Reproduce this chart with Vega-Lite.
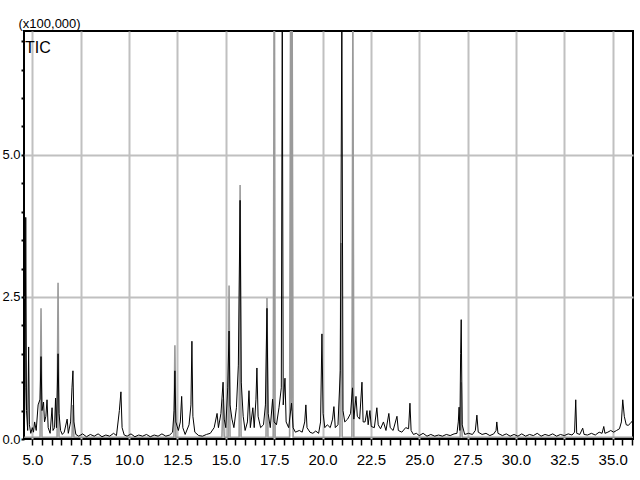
{
  "$schema": "https://vega.github.io/schema/vega-lite/v6.json",
  "width": 609,
  "height": 408,
  "autosize": {"type": "none"},
  "padding": {"left": 24, "top": 31, "right": 7, "bottom": 41},
  "background": "white",
  "config": {"view": {"stroke": "black", "strokeWidth": 2}},
  "datasets": {
    "black": [
      {"t":4.58,"v":0.08},{"t":4.63,"v":0.9},{"t":4.66,"v":3.9},{"t":4.70,"v":0.5},{"t":4.76,"v":0.15},{"t":4.81,"v":1.62},{"t":4.85,"v":0.25},{"t":4.92,"v":0.1},{"t":5.0,"v":0.2},{"t":5.06,"v":0.12},{"t":5.12,"v":0.3},{"t":5.2,"v":0.15},{"t":5.3,"v":0.6},{"t":5.4,"v":0.7},{"t":5.45,"v":1.45},{"t":5.5,"v":0.5},{"t":5.58,"v":0.65},{"t":5.63,"v":0.3},{"t":5.7,"v":0.4},{"t":5.76,"v":0.69},{"t":5.82,"v":0.2},{"t":5.92,"v":0.1},{"t":6.02,"v":0.55},{"t":6.07,"v":0.15},{"t":6.15,"v":0.2},{"t":6.2,"v":0.72},{"t":6.25,"v":0.2},{"t":6.33,"v":1.5},{"t":6.38,"v":0.45},{"t":6.46,"v":0.15},{"t":6.55,"v":0.08},{"t":6.65,"v":0.12},{"t":6.8,"v":0.35},{"t":6.86,"v":0.1},{"t":6.98,"v":0.3},{"t":7.05,"v":0.9},{"t":7.1,"v":1.2},{"t":7.15,"v":0.3},{"t":7.25,"v":0.08},{"t":7.4,"v":0.05},{"t":7.6,"v":0.09},{"t":7.8,"v":0.04},{"t":8.0,"v":0.08},{"t":8.2,"v":0.05},{"t":8.4,"v":0.09},{"t":8.6,"v":0.04},{"t":8.8,"v":0.07},{"t":9.0,"v":0.05},{"t":9.2,"v":0.1},{"t":9.35,"v":0.06},{"t":9.5,"v":0.5},{"t":9.58,"v":0.83},{"t":9.64,"v":0.2},{"t":9.75,"v":0.07},{"t":9.9,"v":0.05},{"t":10.1,"v":0.09},{"t":10.3,"v":0.04},{"t":10.5,"v":0.07},{"t":10.7,"v":0.05},{"t":10.9,"v":0.08},{"t":11.1,"v":0.04},{"t":11.3,"v":0.07},{"t":11.5,"v":0.05},{"t":11.7,"v":0.09},{"t":11.9,"v":0.05},{"t":12.1,"v":0.07},{"t":12.25,"v":0.12},{"t":12.33,"v":0.5},{"t":12.37,"v":1.2},{"t":12.42,"v":0.3},{"t":12.55,"v":0.15},{"t":12.65,"v":0.3},{"t":12.72,"v":0.75},{"t":12.78,"v":0.2},{"t":12.9,"v":0.08},{"t":13.1,"v":0.25},{"t":13.2,"v":0.6},{"t":13.25,"v":1.72},{"t":13.3,"v":0.4},{"t":13.4,"v":0.12},{"t":13.6,"v":0.06},{"t":13.8,"v":0.05},{"t":14.0,"v":0.08},{"t":14.2,"v":0.1},{"t":14.4,"v":0.2},{"t":14.55,"v":0.45},{"t":14.62,"v":0.2},{"t":14.75,"v":0.45},{"t":14.86,"v":1.0},{"t":14.92,"v":0.35},{"t":15.0,"v":0.2},{"t":15.1,"v":0.9},{"t":15.17,"v":1.9},{"t":15.22,"v":0.6},{"t":15.32,"v":0.35},{"t":15.42,"v":0.2},{"t":15.55,"v":0.55},{"t":15.65,"v":1.3},{"t":15.74,"v":4.2},{"t":15.8,"v":1.0},{"t":15.9,"v":0.4},{"t":16.0,"v":0.15},{"t":16.12,"v":0.3},{"t":16.2,"v":0.85},{"t":16.27,"v":0.2},{"t":16.4,"v":0.55},{"t":16.47,"v":0.2},{"t":16.56,"v":0.7},{"t":16.61,"v":1.25},{"t":16.67,"v":0.4},{"t":16.8,"v":0.2},{"t":16.95,"v":0.25},{"t":17.05,"v":0.6},{"t":17.13,"v":2.3},{"t":17.19,"v":0.45},{"t":17.3,"v":0.2},{"t":17.42,"v":0.7},{"t":17.5,"v":0.3},{"t":17.62,"v":0.25},{"t":17.75,"v":0.55},{"t":17.87,"v":0.9},{"t":17.92,"v":7.5},{"t":17.97,"v":0.6},{"t":18.06,"v":1.07},{"t":18.12,"v":0.3},{"t":18.25,"v":0.2},{"t":18.4,"v":0.63},{"t":18.48,"v":0.2},{"t":18.6,"v":0.12},{"t":18.8,"v":0.15},{"t":18.95,"v":0.12},{"t":19.08,"v":0.3},{"t":19.14,"v":0.6},{"t":19.2,"v":0.2},{"t":19.35,"v":0.12},{"t":19.5,"v":0.1},{"t":19.65,"v":0.14},{"t":19.8,"v":0.1},{"t":19.9,"v":0.3},{"t":19.97,"v":1.85},{"t":20.03,"v":0.45},{"t":20.12,"v":0.2},{"t":20.25,"v":0.25},{"t":20.4,"v":0.2},{"t":20.52,"v":0.35},{"t":20.59,"v":0.57},{"t":20.66,"v":0.2},{"t":20.8,"v":0.25},{"t":20.92,"v":1.2},{"t":21.0,"v":7.5},{"t":21.06,"v":0.5},{"t":21.15,"v":0.3},{"t":21.3,"v":0.35},{"t":21.45,"v":0.45},{"t":21.55,"v":0.9},{"t":21.62,"v":0.35},{"t":21.73,"v":0.75},{"t":21.8,"v":0.4},{"t":21.92,"v":0.35},{"t":22.04,"v":1.0},{"t":22.1,"v":0.3},{"t":22.2,"v":0.3},{"t":22.3,"v":0.5},{"t":22.36,"v":0.25},{"t":22.45,"v":0.5},{"t":22.52,"v":0.22},{"t":22.68,"v":0.2},{"t":22.81,"v":0.55},{"t":22.88,"v":0.25},{"t":23.0,"v":0.18},{"t":23.15,"v":0.3},{"t":23.28,"v":0.15},{"t":23.43,"v":0.45},{"t":23.5,"v":0.2},{"t":23.65,"v":0.15},{"t":23.85,"v":0.4},{"t":23.92,"v":0.15},{"t":24.1,"v":0.12},{"t":24.3,"v":0.2},{"t":24.45,"v":0.18},{"t":24.52,"v":0.63},{"t":24.58,"v":0.15},{"t":24.7,"v":0.08},{"t":24.85,"v":0.1},{"t":25.0,"v":0.06},{"t":25.2,"v":0.1},{"t":25.4,"v":0.05},{"t":25.6,"v":0.08},{"t":25.8,"v":0.05},{"t":26.0,"v":0.07},{"t":26.2,"v":0.05},{"t":26.4,"v":0.08},{"t":26.6,"v":0.06},{"t":26.8,"v":0.09},{"t":26.95,"v":0.1},{"t":27.02,"v":0.3},{"t":27.06,"v":0.56},{"t":27.1,"v":0.15},{"t":27.14,"v":1.5},{"t":27.17,"v":2.1},{"t":27.22,"v":0.25},{"t":27.35,"v":0.08},{"t":27.55,"v":0.1},{"t":27.75,"v":0.08},{"t":27.9,"v":0.15},{"t":27.98,"v":0.42},{"t":28.05,"v":0.12},{"t":28.25,"v":0.08},{"t":28.45,"v":0.1},{"t":28.65,"v":0.06},{"t":28.85,"v":0.09},{"t":28.97,"v":0.15},{"t":29.01,"v":0.3},{"t":29.07,"v":0.1},{"t":29.3,"v":0.06},{"t":29.5,"v":0.09},{"t":29.7,"v":0.05},{"t":29.9,"v":0.08},{"t":30.1,"v":0.05},{"t":30.3,"v":0.09},{"t":30.5,"v":0.05},{"t":30.7,"v":0.08},{"t":30.9,"v":0.06},{"t":31.1,"v":0.1},{"t":31.3,"v":0.05},{"t":31.5,"v":0.08},{"t":31.7,"v":0.06},{"t":31.9,"v":0.09},{"t":32.1,"v":0.05},{"t":32.3,"v":0.08},{"t":32.5,"v":0.06},{"t":32.7,"v":0.09},{"t":32.9,"v":0.07},{"t":33.03,"v":0.12},{"t":33.09,"v":0.69},{"t":33.14,"v":0.1},{"t":33.3,"v":0.08},{"t":33.45,"v":0.19},{"t":33.52,"v":0.08},{"t":33.7,"v":0.07},{"t":33.9,"v":0.1},{"t":34.1,"v":0.07},{"t":34.3,"v":0.12},{"t":34.45,"v":0.1},{"t":34.54,"v":0.22},{"t":34.6,"v":0.1},{"t":34.75,"v":0.12},{"t":34.9,"v":0.15},{"t":35.05,"v":0.12},{"t":35.2,"v":0.15},{"t":35.35,"v":0.18},{"t":35.45,"v":0.3},{"t":35.52,"v":0.69},{"t":35.6,"v":0.4},{"t":35.7,"v":0.25},{"t":35.8,"v":0.24},{"t":35.9,"v":0.27},{"t":36.05,"v":0.33}
    ],
    "grey": [
      {"t":4.58,"v":0.03},{"t":5.4,"v":0.03},{"t":5.45,"v":2.3},{"t":5.5,"v":0.03},{"t":6.28,"v":0.03},{"t":6.33,"v":2.75},{"t":6.38,"v":0.03},{"t":7.05,"v":0.03},{"t":7.1,"v":0.6},{"t":7.15,"v":0.03},{"t":12.32,"v":0.03},{"t":12.37,"v":1.65},{"t":12.42,"v":0.03},{"t":14.8,"v":0.03},{"t":14.86,"v":0.7},{"t":14.92,"v":0.03},{"t":15.12,"v":0.03},{"t":15.17,"v":2.7},{"t":15.22,"v":0.03},{"t":15.69,"v":0.03},{"t":15.74,"v":4.47},{"t":15.79,"v":0.03},{"t":17.08,"v":0.03},{"t":17.13,"v":2.48},{"t":17.18,"v":0.03},{"t":17.45,"v":0.03},{"t":17.5,"v":7.5},{"t":17.55,"v":0.03},{"t":18.3,"v":0.03},{"t":18.35,"v":7.5},{"t":18.39,"v":0.5},{"t":18.43,"v":7.5},{"t":18.48,"v":0.03},{"t":20.9,"v":0.03},{"t":20.96,"v":3.45},{"t":21.02,"v":0.03},{"t":21.52,"v":0.03},{"t":21.57,"v":7.5},{"t":21.62,"v":0.03},{"t":27.12,"v":0.03},{"t":27.17,"v":1.0},{"t":27.22,"v":0.03},{"t":36.05,"v":0.03}
    ],
    "labels": [{"t":4.62,"v":6.88,"label":"TIC"}]
  },
  "encoding": {
    "x": {
      "field": "t", "type": "quantitative",
      "scale": {"domain": [4.57, 36.05], "nice": false, "zero": false},
      "axis": {
        "title": null,
        "values": [5,5.5,6,6.5,7,7.5,8,8.5,9,9.5,10,10.5,11,11.5,12,12.5,13,13.5,14,14.5,15,15.5,16,16.5,17,17.5,18,18.5,19,19.5,20,20.5,21,21.5,22,22.5,23,23.5,24,24.5,25,25.5,26,26.5,27,27.5,28,28.5,29,29.5,30,30.5,31,31.5,32,32.5,33,33.5,34,34.5,35,35.5,36],
        "labelExpr": "datum.value % 2.5 === 0 ? format(datum.value, '.1f') : ''",
        "domain": false,
        "grid": true,
        "gridColor": "#c0c0c0",
        "gridWidth": 2,
        "gridOpacity": {"condition": {"test": "datum.value % 2.5 === 0", "value": 1}, "value": 0},
        "tickColor": "black",
        "tickWidth": 1.5,
        "tickSize": 6,
        "labelFont": "Liberation Sans",
        "labelFontSize": 15,
        "labelColor": "black",
        "labelPadding": 7,
        "labelOverlap": false,
        "labelFlush": false
      }
    },
    "y": {
      "field": "v", "type": "quantitative",
      "scale": {"domain": [0, 7.18], "nice": false, "zero": false},
      "axis": {
        "title": "(x100,000)",
        "titleAngle": 0,
        "titleAlign": "left",
        "titleBaseline": "bottom",
        "titleX": -6,
        "titleY": -1,
        "titleFont": "Liberation Sans",
        "titleFontSize": 13,
        "titleFontWeight": "normal",
        "titleColor": "black",
        "values": [0,0.5,1,1.5,2,2.5,3,3.5,4,4.5,5,5.5,6,6.5,7],
        "labelExpr": "datum.value % 2.5 === 0 ? format(datum.value, '.1f') : ''",
        "domain": false,
        "grid": true,
        "gridColor": "#c0c0c0",
        "gridWidth": 2,
        "gridOpacity": {"condition": {"test": "datum.value % 2.5 === 0 && datum.value > 0", "value": 1}, "value": 0},
        "tickColor": "black",
        "tickWidth": 2,
        "tickSize": 3,
        "labelFont": "Liberation Sans",
        "labelFontSize": 13,
        "labelColor": "black",
        "labelPadding": 1,
        "labelOverlap": false,
        "labelFlush": false
      }
    }
  },
  "layer": [
    {"data": {"name": "grey"}, "mark": {"type": "line", "color": "#9a9a9a", "strokeWidth": 1.6, "clip": true}},
    {"data": {"name": "black"}, "mark": {"type": "line", "color": "black", "strokeWidth": 1, "clip": true}},
    {"data": {"name": "labels"}, "mark": {"type": "text", "align": "left", "baseline": "middle", "fontSize": 16, "font": "Liberation Sans", "color": "black"}, "encoding": {"text": {"field": "label"}}}
  ]
}
